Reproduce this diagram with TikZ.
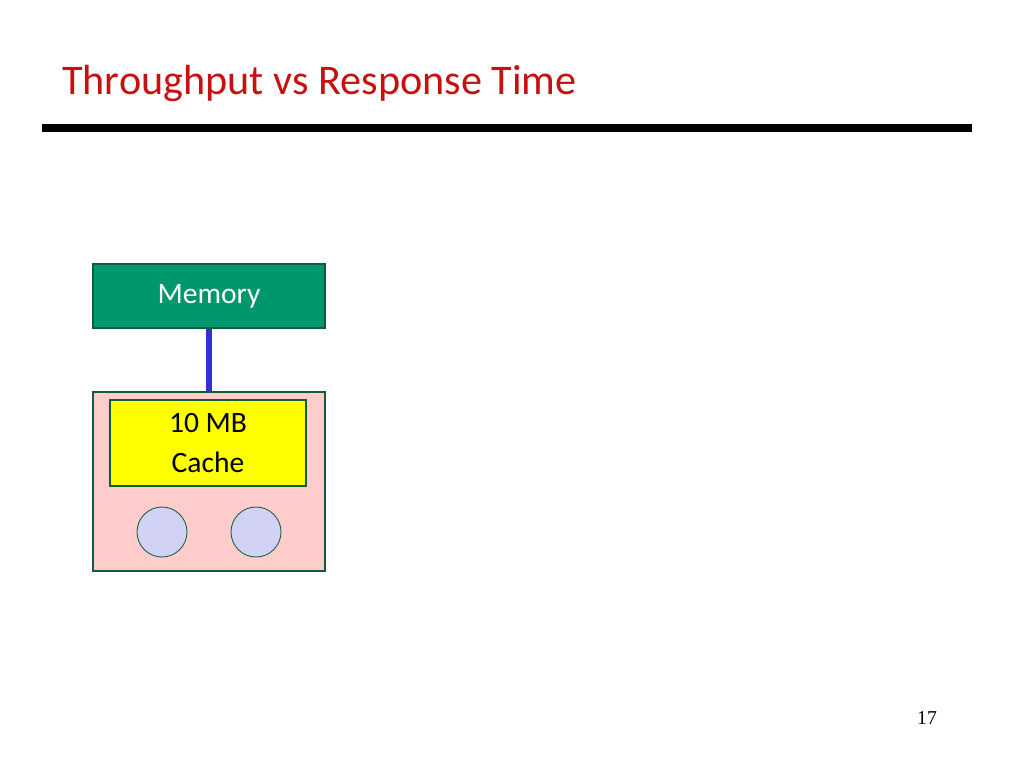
\documentclass[tikz,border=0pt]{standalone}
\usepackage{fontspec}
\setmainfont{Carlito}
\newfontfamily\numfont{Liberation Serif}
\definecolor{titlered}{RGB}{200,16,16}
\definecolor{memgreen}{RGB}{0,150,110}
\definecolor{boxedge}{RGB}{20,90,60}
\definecolor{chippink}{RGB}{255,204,204}
\definecolor{cacheyellow}{RGB}{255,255,0}
\definecolor{corefill}{RGB}{210,210,245}
\definecolor{busblue}{RGB}{50,50,210}
\tikzset{
  block/.style={draw=boxedge, line width=0.8pt, inner sep=0pt},
  core/.style={circle, draw=boxedge, fill=corefill, line width=0.6pt, minimum size=50*0.025cm, inner sep=0pt}
}
\begin{document}
\begin{tikzpicture}[x=0.025cm, y=-0.025cm]
  \useasboundingbox (0,0) rectangle (1024,768);
  % title and rule
  \node[anchor=base west, text=titlered, font=\fontsize{30}{34}\selectfont, inner sep=0pt] (title) at (62,95) {Throughput vs Response Time};
  \fill (42,124) rectangle (972,132);
  % memory
  \node[block, fill=memgreen, minimum width=232*0.025cm, minimum height=64*0.025cm, text=white, font=\fontsize{21}{24}\selectfont] (mem) at (209,296) {Memory};
  % chip
  \node[block, fill=chippink, minimum width=232*0.025cm, minimum height=179*0.025cm] (chip) at (209,481.5) {};
  \draw[busblue, line width=4pt] (mem.south) -- (chip.north);
  \node[block, fill=cacheyellow, minimum width=196*0.025cm, minimum height=86*0.025cm, align=center, font=\fontsize{21}{28}\selectfont] (cache) at (208,443) {10 MB\\Cache};
  \node[core] (core1) at (162,532) {};
  \node[core] (core2) at (256,532) {};
  % page number
  \node[anchor=base, font=\numfont\fontsize{14}{16}\selectfont, inner sep=0pt] (page) at (927,724) {17};
\end{tikzpicture}
\end{document}
